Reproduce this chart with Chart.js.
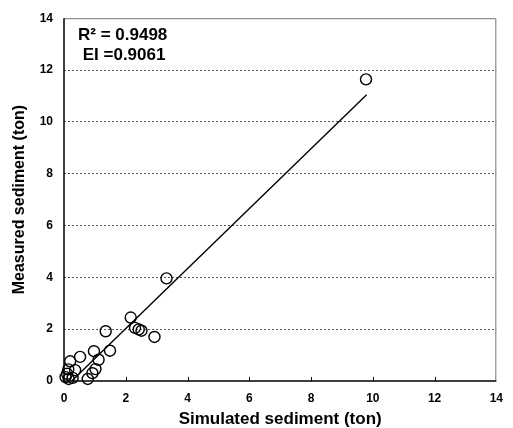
<!DOCTYPE html>
<html>
<head>
<meta charset="utf-8">
<script src="https://cdn.jsdelivr.net/npm/chart.js@4"></script>
<style>
html,body{margin:0;padding:0;background:#fff;}
#wrap{width:513px;height:428px;position:relative;}
</style>
</head>
<body>
<div id="wrap"><canvas id="c" width="513" height="428"></canvas></div>
<script>
// Data
const simulated = [9.78, 3.32, 2.16, 2.30, 2.42, 2.51, 2.93, 1.35, 1.49, 0.97, 1.12, 0.52, 0.20, 1.02, 0.92, 0.77, 0.36, 0.14, 0.10, 0.28, 0.05, 0.15];
const measured  = [11.64, 3.96, 2.45, 2.05, 1.99, 1.94, 1.70, 1.92, 1.17, 1.15, 0.82, 0.93, 0.76, 0.46, 0.30, 0.08, 0.42, 0.45, 0.28, 0.12, 0.15, 0.08];
const fitLineX = [0.25, 9.8];
const fitLineY = [0.0, 11.05];
const xTicks = [0, 2, 4, 6, 8, 10, 12, 14];
const yTicks = [0, 2, 4, 6, 8, 10, 12, 14];
const statLines = ["R\u00B2 = 0.9498", " EI =0.9061"];
const xTitle = "Simulated sediment (ton)";
const yTitle = "Measured sediment (ton)";

const pts = simulated.map((v, i) => ({x: v, y: measured[i]}));
const line = fitLineX.map((v, i) => ({x: v, y: fitLineY[i]}));

const FONT = "'Liberation Sans', Arial, sans-serif";

const framePlugin = {
  id: 'frame',
  beforeDatasetsDraw(chart) {
    const {ctx, chartArea: a, scales} = chart;
    ctx.save();
    ctx.strokeStyle = '#777';
    ctx.lineWidth = 1;
    ctx.beginPath();
    ctx.moveTo(a.left, a.top + 0.5);
    ctx.lineTo(a.right - 0.5, a.top + 0.5);
    ctx.lineTo(a.right - 0.5, a.bottom);
    ctx.stroke();
    ctx.strokeStyle = '#000';
    ctx.lineWidth = 1.5;
    ctx.beginPath();
    ctx.moveTo(a.left, a.top);
    ctx.lineTo(a.left, a.bottom);
    ctx.lineTo(a.right, a.bottom);
    ctx.stroke();
    ctx.lineWidth = 1;
    const xs = scales.x;
    xTicks.forEach(t => {
      if (t === 0 || t === 14) return;
      const px = Math.round(xs.getPixelForValue(t)) + 0.5;
      ctx.beginPath();
      ctx.moveTo(px, a.bottom);
      ctx.lineTo(px, a.bottom - 4);
      ctx.stroke();
    });
    ctx.restore();
  },
  afterDatasetsDraw(chart) {
    const {ctx, chartArea: a} = chart;
    ctx.save();
    ctx.fillStyle = '#000';
    ctx.font = "bold 17px " + FONT;
    ctx.textBaseline = 'alphabetic';
    ctx.textAlign = 'left';
    ctx.fillText(statLines[0], a.left + 14, a.top + 22);
    ctx.fillText(statLines[1], a.left + 14, a.top + 42);
    ctx.restore();
  }
};

new Chart(document.getElementById('c'), {
  type: 'scatter',
  data: {
    datasets: [
      {
        data: pts,
        pointStyle: 'circle',
        pointRadius: 5.5,
        pointHoverRadius: 5.5,
        pointBackgroundColor: 'rgba(0,0,0,0)',
        pointBorderColor: '#000',
        pointBorderWidth: 1.4,
        showLine: false,
        clip: false,
        order: 1
      },
      {
        data: line,
        showLine: true,
        borderColor: '#000',
        borderWidth: 1.4,
        pointRadius: 0,
        fill: false,
        order: 2
      }
    ]
  },
  options: {
    responsive: false,
    animation: false,
    events: [],
    layout: {padding: {top: 17, right: 10, left: 0, bottom: 0}},
    plugins: {legend: {display: false}, tooltip: {enabled: false}},
    scales: {
      x: {
        type: 'linear',
        min: 0, max: 14,
        afterBuildTicks: s => { s.ticks = xTicks.map(v => ({value: v})); },
        afterFit: s => { s.height = 47; },
        grid: {display: false, drawTicks: false},
        border: {display: false},
        ticks: {
          color: '#000',
          padding: 10,
          maxRotation: 0,
          font: {family: FONT, size: 12, weight: 'bold'}
        },
        title: {
          display: true,
          text: xTitle,
          color: '#000',
          font: {family: FONT, size: 17, weight: 'bold'},
          padding: {top: 0, bottom: -2}
        }
      },
      y: {
        type: 'linear',
        min: 0, max: 14,
        afterBuildTicks: s => { s.ticks = yTicks.map(v => ({value: v})); },
        afterFit: s => { s.width = 64; },
        grid: {
          display: true,
          drawTicks: false,
          color: ctx => (ctx.tick && (ctx.tick.value === 0 || ctx.tick.value === 14)) ? 'rgba(0,0,0,0)' : '#555',
          lineWidth: 1,
          borderDash: [2, 2]
        },
        border: {display: false, dash: [2, 2]},
        ticks: {
          color: '#000',
          padding: 11,
          font: {family: FONT, size: 12, weight: 'bold'}
        },
        title: {
          display: true,
          text: yTitle,
          color: '#000',
          font: {family: FONT, size: 16, weight: 'bold'},
          padding: {top: 10, bottom: 0}
        }
      }
    }
  },
  plugins: [framePlugin]
});
</script>
</body>
</html>
